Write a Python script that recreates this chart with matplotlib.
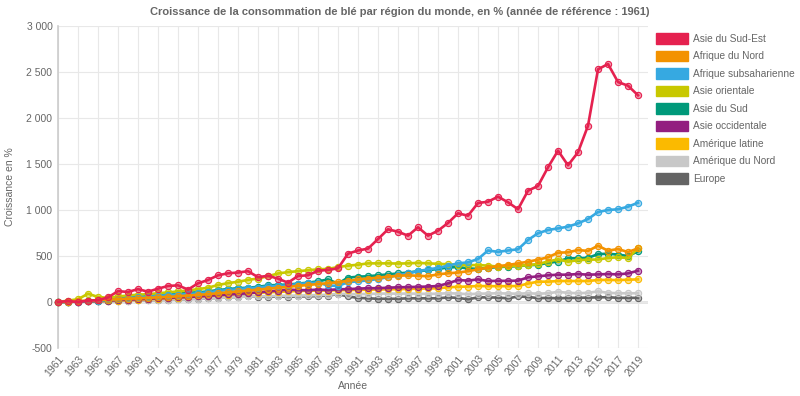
import numpy as np
import matplotlib
matplotlib.use("Agg")
import matplotlib.pyplot as plt
from matplotlib.patches import Patch
from matplotlib.ticker import FuncFormatter

plt.rcParams["font.family"] = ["Liberation Sans", "DejaVu Sans"]

years = list(range(1961, 2020))

asie_sud_est = [0, 10, 0, 15, 20, 50, 118, 109, 140, 112,
                145, 174, 181, 135, 203, 239, 290, 312, 320, 335,
                270, 285, 254, 210, 283, 290, 340, 348, 366, 525,
                560, 580, 684, 790, 764, 721, 812, 721, 775, 859,
                964, 938, 1076, 1090, 1145, 1084, 1008, 1210, 1261, 1464,
                1645, 1486, 1627, 1916, 2529, 2587, 2391, 2351, 2247]
afrique_nord = [0, 5, 10, 15, 20, 25, 30, 35, 40, 45,
                50, 55, 62, 70, 78, 85, 95, 105, 115, 125,
                135, 145, 155, 165, 175, 185, 195, 205, 215, 230,
                245, 255, 265, 275, 285, 290, 285, 280, 301, 312,
                320, 335, 355, 373, 390, 402, 420, 438, 460, 486,
                536, 540, 565, 555, 612, 558, 576, 543, 583]
afrique_subsaharienne = [0, 3, 5, 10, 15, 20, 30, 40, 50, 55,
                         65, 75, 80, 85, 95, 105, 120, 130, 140, 150,
                         155, 170, 175, 180, 195, 205, 210, 180, 175, 215,
                         225, 235, 250, 270, 290, 310, 335, 355, 370, 395,
                         420, 431, 467, 560, 545, 560, 573, 674, 747, 783,
                         800, 819, 855, 902, 978, 1000, 1008, 1036, 1079]
asie_orientale = [0, 15, 30, 90, 55, 45, 60, 70, 80, 85,
                  95, 105, 115, 125, 140, 155, 185, 205, 220, 240,
                  255, 280, 310, 325, 335, 345, 355, 360, 380, 395,
                  405, 420, 420, 420, 418, 420, 425, 420, 415, 410,
                  405, 400, 402, 395, 385, 390, 395, 400, 413, 440,
                  464, 438, 455, 460, 462, 478, 486, 478, 583]
asie_sud = [0, 3, 5, 10, 15, 20, 35, 45, 55, 65,
            75, 85, 95, 100, 105, 115, 130, 140, 150, 155,
            165, 180, 185, 190, 200, 210, 225, 245, 200, 265,
            275, 280, 290, 300, 310, 320, 335, 345, 360, 375,
            380, 365, 360, 370, 380, 385, 390, 400, 405, 425,
            440, 475, 475, 480, 520, 525, 515, 500, 550]
asie_occidentale = [0, 2, 5, 8, 10, 15, 20, 25, 30, 35,
                    40, 45, 50, 55, 60, 68, 75, 82, 88, 95,
                    105, 115, 125, 135, 130, 128, 135, 130, 138, 140,
                    145, 150, 150, 155, 160, 162, 165, 168, 174, 203,
                    239, 232, 246, 228, 230, 230, 232, 268, 279, 290,
                    297, 297, 304, 297, 300, 304, 300, 311, 340]
amerique_latine = [0, 2, 4, 6, 8, 12, 16, 20, 25, 30,
                   35, 40, 45, 52, 60, 65, 72, 80, 88, 95,
                   100, 105, 110, 115, 120, 122, 125, 125, 128, 130,
                   132, 134, 136, 138, 140, 142, 145, 147, 149, 160,
                   165, 168, 174, 172, 172, 172, 174, 200, 221, 221,
                   228, 228, 228, 228, 239, 240, 238, 242, 246]
amerique_nord = [0, 2, 4, 6, 8, 10, 12, 15, 18, 20,
                 22, 25, 28, 32, 36, 40, 45, 50, 55, 60,
                 62, 64, 66, 68, 70, 72, 75, 78, 90, 88,
                 85, 88, 90, 92, 90, 92, 90, 88, 90, 95,
                 92, 85, 90, 92, 95, 92, 90, 95, 90, 95,
                 110, 100, 95, 100, 115, 100, 95, 95, 95]
europe = [0, 2, 4, 6, 8, 10, 12, 15, 18, 20,
          22, 25, 28, 32, 36, 40, 45, 50, 55, 60,
          58, 55, 60, 55, 62, 60, 65, 70, 85, 60,
          45, 40, 35, 35, 35, 40, 40, 40, 40, 50,
          45, 30, 50, 50, 48, 40, 60, 55, 42, 45,
          40, 45, 45, 48, 50, 52, 45, 45, 45]

labels = ["Asie du Sud-Est", "Afrique du Nord", "Afrique subsaharienne",
          "Asie orientale", "Asie du Sud", "Asie occidentale",
          "Amérique latine", "Amérique du Nord", "Europe"]
series = [asie_sud_est, afrique_nord, afrique_subsaharienne, asie_orientale,
          asie_sud, asie_occidentale, amerique_latine, amerique_nord, europe]
colors = ["#e5214f", "#f39200", "#36a9e1", "#c8c800", "#00997a",
          "#931e80", "#fbba00", "#c8c8c8", "#646464"]

fig = plt.figure(figsize=(8, 3.96), dpi=100)
ax = fig.add_axes([58 / 800, 48 / 396, 590 / 800, 322 / 396])

# first series drawn on top, as in the original
n = len(series)
for i in range(n - 1, -1, -1):
    ax.plot(years, series[i], color=colors[i], lw=1.9, zorder=3 + (n - i),
            marker="o", ms=4.5, mfc=matplotlib.colors.to_rgba(colors[i], 0.45),
            mec=colors[i], mew=0.8, clip_on=False)

ax.set_xlim(1961, 2020)
ax.set_ylim(-500, 3000)
ax.set_xticks(range(1961, 2020, 2))
ax.set_yticks(range(-500, 3001, 500))
ax.yaxis.set_major_formatter(FuncFormatter(lambda v, p: f"{int(v):,}".replace(",", " ")))
ax.grid(True, color="#e8e8e8", lw=0.8, zorder=0)
ax.axhline(0, color="#dcdcdc", lw=1.8, zorder=1)
ax.tick_params(colors="#666666", labelsize=7.5, length=0, pad=4)
for lab in ax.get_xticklabels():
    lab.set_rotation(50)
    lab.set_ha("right")
    lab.set_rotation_mode("anchor")
for s in ["top", "right", "bottom"]:
    ax.spines[s].set_visible(False)
ax.spines["left"].set_color("#cccccc")
ax.spines["left"].set_linewidth(1.2)

ax.set_xlabel("Année", color="#666666", fontsize=7.5, labelpad=2)
ax.set_ylabel("Croissance en %", color="#666666", fontsize=7.5, labelpad=8)
fig.text(0.5, 0.97, "Croissance de la consommation de blé par région du monde, en % (année de référence : 1961)",
         ha="center", va="center", fontsize=8, fontweight="bold", color="#666666")

handles = [Patch(facecolor=c, edgecolor=c) for c in colors]
fig.legend(handles, labels, loc="upper left", bbox_to_anchor=(649 / 800, 1 - 26 / 396),
           frameon=False, fontsize=7.3, labelcolor="#666666", handlelength=3.15,
           handleheight=1.26, labelspacing=0.66, handletextpad=0.5, borderpad=0.2)

fig.savefig("out.png", dpi=100)
